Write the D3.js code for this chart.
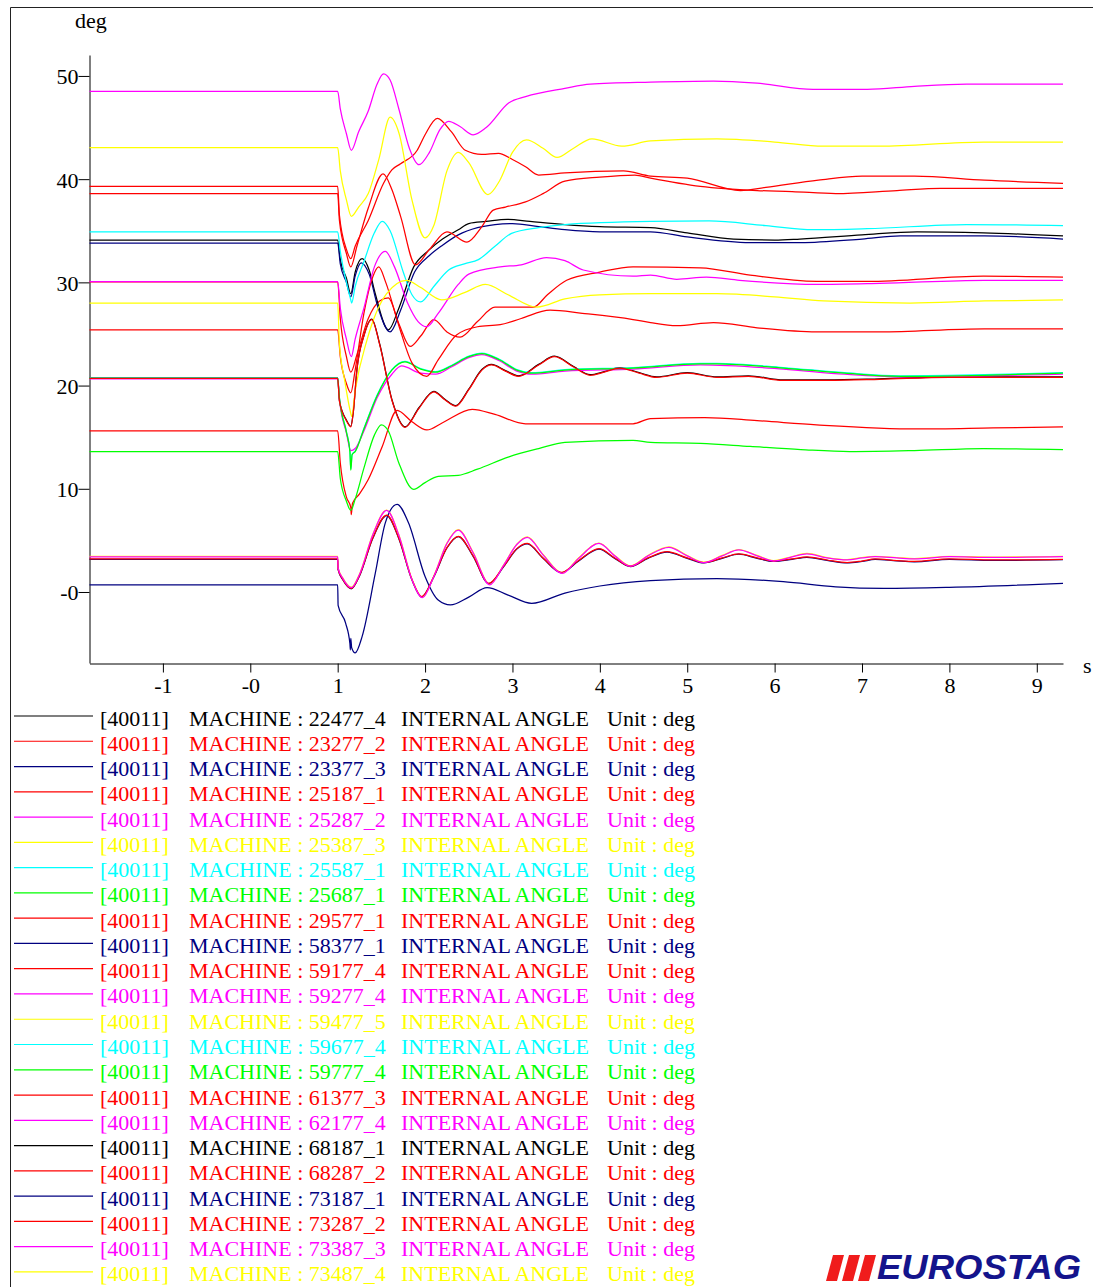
<!DOCTYPE html>
<html><head><meta charset="utf-8">
<script src="https://cdn.jsdelivr.net/npm/d3@7/dist/d3.min.js"></script>
<style>html,body{margin:0;padding:0;background:#fff;}svg{display:block}</style>
</head><body>
<script>
// ---------- DATA ----------
const machines = ["22477_4","23277_2","23377_3","25187_1","25287_2","25387_3","25587_1","25687_1","29577_1","58377_1","59177_4","59277_4","59477_5","59677_4","59777_4","61377_3","62177_4","68187_1","68287_2","73187_1","73287_2","73387_3","73487_4"];
const xTicks = [-1,0,1,2,3,4,5,6,7,8,9];
const xTickLabels = ["-1","-0","1","2","3","4","5","6","7","8","9"];
const yTicks = [0,10,20,30,40,50];
const yTickLabels = ["-0","10","20","30","40","50"];

const m22477_4 = [[-1.84,34.1],[1.0,34.1],[1.03,32.2],[1.1,30.4],[1.15,28.9],[1.2,31.0],[1.28,32.3],[1.36,31.2],[1.43,28.9],[1.58,25.4],[1.7,27.5],[1.87,31.5],[2.04,33.1],[2.2,34.2],[2.38,35.1],[2.5,35.7],[2.7,35.9],[2.94,36.1],[3.2,35.9],[3.6,35.6],[4.0,35.4],[4.58,35.3],[5.0,34.8],[5.53,34.2],[6.0,34.1],[6.29,34.2],[7.0,34.6],[7.63,34.9],[8.39,34.8],[9.3,34.5]];
const m23277_2 = [[-1.84,39.3],[1.0,39.3],[1.02,36.5],[1.1,33.2],[1.15,32.3],[1.2,33.5],[1.35,36.0],[1.525,39.6],[1.62,40.9],[1.72,41.5],[1.91,42.8],[2.0,44.3],[2.14,45.9],[2.3,44.6],[2.46,42.8],[2.65,42.4],[2.84,42.5],[3.0,41.9],[3.15,41.2],[3.3,40.4],[3.6,40.6],[4.27,40.8],[4.58,40.3],[5.0,40.1],[5.61,38.9],[5.9,39.2],[6.5,39.9],[7.0,40.3],[7.6,40.3],[8.4,39.9],[9.3,39.6]];
const m23377_3 = [[-1.84,33.8],[1.0,33.8],[1.03,31.8],[1.1,30.0],[1.15,28.6],[1.2,30.6],[1.27,31.9],[1.36,30.8],[1.46,27.6],[1.6,25.2],[1.72,27.3],[1.88,31.0],[2.05,32.6],[2.2,33.6],[2.38,34.6],[2.6,35.3],[2.8,35.6],[3.0,35.7],[3.3,35.4],[3.6,35.1],[4.0,34.9],[4.58,34.9],[5.0,34.4],[5.72,33.85],[6.3,33.85],[7.0,34.2],[7.44,34.5],[8.4,34.5],[9.3,34.2]];
const m25187_1 = [[-1.84,38.6],[1.0,38.6],[1.02,36.0],[1.1,32.8],[1.15,31.5],[1.22,33.5],[1.35,37.2],[1.52,40.5],[1.62,39.0],[1.72,36.4],[1.89,31.7],[2.05,33.2],[2.25,34.9],[2.48,33.9],[2.65,35.4],[2.78,37.0],[2.92,37.3],[3.15,37.8],[3.35,38.6],[3.6,39.8],[4.0,40.2],[4.4,40.4],[4.58,40.1],[5.15,39.3],[5.8,38.9],[6.2,38.8],[6.7,38.6],[7.4,38.9],[7.9,39.1],[9.3,39.1]];
const m25287_2 = [[-1.84,48.5],[1.0,48.5],[1.03,46.8],[1.1,44.4],[1.156,42.8],[1.24,44.6],[1.35,46.6],[1.45,49.2],[1.525,50.2],[1.6,49.6],[1.7,46.8],[1.82,43.0],[1.93,41.4],[2.05,42.6],[2.17,44.8],[2.27,45.6],[2.4,45.1],[2.55,44.3],[2.7,45.0],[2.96,47.4],[3.15,48.0],[3.6,48.8],[3.89,49.2],[4.58,49.4],[5.3,49.5],[5.8,49.3],[6.44,48.7],[7.06,48.7],[7.6,49.0],[8.2,49.2],[9.3,49.2]];
const m25387_3 = [[-1.84,43.05],[1.0,43.05],[1.03,40.8],[1.1,38.0],[1.156,36.4],[1.24,37.3],[1.35,38.6],[1.47,41.9],[1.6,46.0],[1.7,44.5],[1.85,38.0],[2.0,34.3],[2.1,35.5],[2.25,40.8],[2.38,42.6],[2.5,41.6],[2.72,38.5],[2.85,39.8],[3.0,42.6],[3.16,43.8],[3.35,43.0],[3.51,42.1],[3.7,43.0],[3.91,43.9],[4.25,43.2],[4.58,43.7],[5.34,43.9],[6.0,43.6],[6.56,43.2],[7.2,43.2],[8.39,43.6],[9.3,43.6]];
const m25587_1 = [[-1.84,34.9],[1.0,34.9],[1.03,33.0],[1.1,30.0],[1.15,28.3],[1.16,28.0],[1.2,29.6],[1.3,32.0],[1.42,34.8],[1.51,35.9],[1.6,35.0],[1.75,31.0],[1.85,28.8],[1.95,28.1],[2.1,29.6],[2.27,31.2],[2.45,31.8],[2.61,32.2],[2.8,33.5],[2.99,34.75],[3.3,35.3],[3.6,35.6],[4.58,35.9],[5.25,35.95],[5.9,35.5],[6.44,35.1],[7.06,35.2],[8.2,35.6],[9.3,35.5]];
const m25687_1 = [[-1.84,20.7],[1.0,20.7],[1.02,18.8],[1.1,15.5],[1.14,13.6],[1.15,11.8],[1.165,13.3],[1.2,13.6],[1.3,15.8],[1.45,19.0],[1.62,21.5],[1.77,22.3],[1.95,21.6],[2.12,21.3],[2.3,21.9],[2.5,22.8],[2.65,23.1],[2.85,22.5],[3.05,21.5],[3.22,21.2],[3.6,21.5],[4.38,21.7],[5.15,22.1],[5.34,22.1],[6.1,21.7],[6.8,21.2],[7.44,20.9],[8.4,21.0],[9.3,21.2]];
const m29577_1 = [[-1.84,25.4],[1.0,25.4],[1.03,22.8],[1.1,20.2],[1.15,19.3],[1.2,21.5],[1.3,27.0],[1.4,30.5],[1.47,31.5],[1.55,30.0],[1.7,25.8],[1.85,22.2],[2.02,20.9],[2.15,22.5],[2.36,24.9],[2.6,25.7],[2.86,25.9],[3.1,26.5],[3.43,27.3],[3.8,27.0],[4.38,26.4],[4.58,26.1],[4.88,25.8],[5.3,26.1],[5.8,25.6],[6.48,25.2],[7.2,25.2],[8.4,25.5],[9.3,25.5]];
const m58377_1 = [[-1.84,0.68],[1.0,0.68],[1.005,-1.3],[1.09,-3.0],[1.14,-5.0],[1.145,-5.6],[1.15,-4.5],[1.16,-5.4],[1.2,-5.9],[1.28,-4.3],[1.43,1.8],[1.545,6.7],[1.68,8.5],[1.81,6.7],[2.0,1.5],[2.15,-0.78],[2.29,-1.26],[2.5,-0.5],[2.71,0.42],[2.95,-0.3],[3.22,-1.1],[3.6,-0.1],[4.0,0.58],[4.58,1.1],[5.34,1.3],[6.1,1.0],[6.7,0.5],[7.25,0.35],[8.0,0.45],[9.3,0.84]];
const m59177_4 = [[-1.84,15.6],[1.0,15.6],[1.03,12.5],[1.1,9.2],[1.15,8.2],[1.155,7.5],[1.17,8.6],[1.25,9.5],[1.35,10.9],[1.51,14.1],[1.68,17.6],[1.85,16.5],[2.02,15.7],[2.2,16.4],[2.54,17.7],[2.8,17.2],[3.15,16.3],[3.6,16.3],[4.38,16.3],[4.58,16.8],[5.2,16.9],[5.8,16.6],[6.48,16.2],[7.63,15.8],[8.5,15.9],[9.3,16.0]];
const m59277_4 = [[-1.84,30.07],[1.0,30.07],[1.03,27.5],[1.1,24.5],[1.156,22.8],[1.2,24.5],[1.3,27.5],[1.42,31.5],[1.545,33.0],[1.65,31.5],[1.8,28.0],[1.92,26.2],[2.02,25.7],[2.15,27.0],[2.38,29.8],[2.5,30.8],[2.86,31.5],[3.1,31.7],[3.39,32.4],[3.6,32.1],[3.81,31.2],[4.38,30.6],[4.58,30.7],[4.88,30.3],[5.22,30.5],[5.6,30.2],[6.48,29.8],[7.2,29.9],[8.4,30.2],[9.3,30.2]];
const m59477_5 = [[-1.84,28.0],[1.0,28.0],[1.02,24.0],[1.08,20.5],[1.15,17.3],[1.16,17.0],[1.2,19.5],[1.335,24.4],[1.56,28.9],[1.79,30.2],[1.95,29.5],[2.19,28.3],[2.45,29.0],[2.69,29.8],[2.95,28.8],[3.28,27.6],[3.6,28.4],[4.0,28.8],[4.58,28.9],[5.34,28.9],[6.0,28.6],[6.56,28.2],[7.55,28.0],[8.4,28.2],[9.3,28.3]];
const m59677_4 = [[-1.84,20.75],[1.0,20.75],[1.02,18.85],[1.1,15.55],[1.14,13.65],[1.15,11.9],[1.165,13.35],[1.2,13.65],[1.3,15.85],[1.45,19.05],[1.62,21.55],[1.77,22.35],[1.95,21.65],[2.12,21.35],[2.3,21.95],[2.5,22.85],[2.65,23.15],[2.85,22.55],[3.05,21.55],[3.22,21.25],[3.6,21.55],[4.38,21.75],[5.15,22.15],[5.34,22.15],[6.1,21.75],[6.8,21.25],[7.44,20.95],[8.4,21.05],[9.3,21.25]];
const m59777_4 = [[-1.84,13.6],[1.0,13.6],[1.03,11.0],[1.1,8.8],[1.15,7.9],[1.2,9.0],[1.3,12.0],[1.42,15.2],[1.5,16.2],[1.58,15.6],[1.7,12.5],[1.87,9.95],[2.0,10.6],[2.15,11.2],[2.38,11.3],[2.6,11.9],[2.96,13.1],[3.3,13.9],[3.6,14.5],[4.38,14.7],[4.58,14.5],[5.15,14.4],[5.72,14.1],[6.3,13.8],[6.86,13.6],[7.6,13.7],[8.39,13.9],[9.3,13.8]];
const m61377_3 = [[-1.84,3.2],[1.0,3.2],[1.005,2.2],[1.06,1.2],[1.156,0.35],[1.25,1.6],[1.4,5.2],[1.56,7.45],[1.7,5.2],[1.85,1.2],[1.96,-0.45],[2.1,1.5],[2.25,4.3],[2.38,5.4],[2.55,3.5],[2.73,0.84],[2.9,2.5],[3.05,4.2],[3.17,4.7],[3.35,3.3],[3.56,1.9],[3.75,3.0],[3.99,4.2],[4.17,3.3],[4.35,2.5],[4.55,3.3],[4.77,3.9],[5.0,3.3],[5.19,2.85],[5.4,3.3],[5.59,3.7],[5.8,3.3],[5.99,3.0],[6.2,3.2],[6.37,3.4],[6.6,3.1],[6.83,2.85],[7.0,3.0],[7.15,3.2],[7.4,3.05],[7.6,2.97],[8.0,3.2],[8.5,3.1],[9.3,3.17]];
const m62177_4 = [[-1.84,3.4],[1.0,3.4],[1.005,2.3],[1.06,1.3],[1.156,0.42],[1.25,1.7],[1.4,5.5],[1.56,7.9],[1.7,5.5],[1.85,1.2],[1.97,-0.55],[2.1,1.5],[2.25,4.7],[2.38,6.0],[2.55,3.8],[2.74,0.7],[2.9,2.6],[3.05,4.6],[3.17,5.3],[3.35,3.6],[3.57,1.8],[3.75,3.2],[3.99,4.7],[4.17,3.5],[4.35,2.5],[4.55,3.5],[4.79,4.33],[5.0,3.5],[5.19,2.85],[5.4,3.5],[5.59,4.07],[5.8,3.5],[5.99,3.0],[6.2,3.4],[6.37,3.7],[6.6,3.3],[6.83,3.1],[7.0,3.3],[7.15,3.42],[7.4,3.3],[7.6,3.2],[8.0,3.42],[8.5,3.35],[9.3,3.42]];
const m68187_1 = [[-1.84,20.74],[1.0,20.74],[1.02,18.55],[1.1,16.65],[1.15,16.05],[1.18,17.55],[1.22,21.55],[1.3,24.85],[1.39,26.45],[1.48,24.05],[1.62,18.65],[1.77,16.0],[1.93,17.85],[2.1,19.45],[2.23,18.65],[2.35,18.05],[2.5,19.65],[2.65,21.55],[2.76,22.05],[2.92,21.45],[3.07,20.95],[3.3,22.05],[3.48,22.85],[3.7,21.85],[3.89,21.05],[4.05,21.35],[4.23,21.75],[4.45,21.25],[4.65,20.85],[5.0,21.25],[5.34,20.85],[5.7,20.95],[6.1,20.55],[6.6,20.55],[7.2,20.65],[8.0,20.85],[9.3,20.85]];
const m68287_2 = [[-1.84,20.7],[1.0,20.7],[1.02,18.5],[1.1,16.6],[1.15,16.0],[1.18,17.5],[1.22,21.5],[1.3,24.8],[1.39,26.4],[1.48,24.0],[1.62,18.6],[1.77,15.95],[1.93,17.8],[2.1,19.4],[2.23,18.6],[2.35,18.0],[2.5,19.6],[2.65,21.5],[2.76,22.0],[2.92,21.4],[3.07,20.9],[3.3,22.0],[3.48,22.8],[3.7,21.8],[3.89,21.0],[4.05,21.3],[4.23,21.7],[4.45,21.2],[4.65,20.8],[5.0,21.2],[5.34,20.8],[5.7,20.9],[6.1,20.5],[6.6,20.5],[7.2,20.6],[8.0,20.8],[9.3,20.8]];
const m73187_1 = [[-1.84,3.16],[1.0,3.16],[1.005,2.16],[1.06,1.16],[1.156,0.31],[1.25,1.56],[1.4,5.16],[1.56,7.41],[1.7,5.16],[1.85,1.16],[1.96,-0.49],[2.1,1.46],[2.25,4.26],[2.38,5.36],[2.55,3.46],[2.73,0.8],[2.9,2.46],[3.05,4.16],[3.17,4.66],[3.35,3.26],[3.56,1.86],[3.75,2.96],[3.99,4.16],[4.17,3.26],[4.35,2.46],[4.55,3.26],[4.77,3.86],[5.0,3.26],[5.19,2.81],[5.4,3.26],[5.59,3.66],[5.8,3.26],[5.99,2.96],[6.2,3.16],[6.37,3.36],[6.6,3.06],[6.83,2.81],[7.0,2.96],[7.15,3.16],[7.4,3.01],[7.6,2.93],[8.0,3.16],[8.5,3.06],[9.3,3.13]];
const m73287_2 = [[-1.84,30.05],[1.0,30.05],[1.03,26.5],[1.1,22.8],[1.15,21.3],[1.22,23.0],[1.35,26.5],[1.48,28.2],[1.58,28.5],[1.7,26.0],[1.83,23.8],[1.95,24.8],[2.1,26.4],[2.25,25.2],[2.4,24.7],[2.6,26.2],[2.8,27.6],[3.0,27.6],[3.24,27.6],[3.4,28.8],[3.62,30.2],[4.0,31.0],[4.38,31.5],[5.15,31.4],[5.72,30.7],[6.48,30.1],[7.06,30.1],[8.39,30.6],[9.3,30.5]];
const m73387_3 = [[-1.84,20.65],[1.0,20.65],[1.02,18.7],[1.1,15.4],[1.15,13.7],[1.2,13.9],[1.3,15.6],[1.45,18.8],[1.62,21.1],[1.73,21.9],[1.95,21.2],[2.12,21.1],[2.3,21.8],[2.5,22.7],[2.65,23.0],[2.85,22.4],[3.05,21.4],[3.22,21.1],[3.6,21.4],[4.38,21.6],[5.15,22.0],[6.1,21.6],[6.8,21.1],[7.44,20.85],[8.4,20.95],[9.3,21.1]];
const m73487_4 = [[-1.84,3.44],[1.0,3.44],[1.005,2.34],[1.06,1.34],[1.156,0.46],[1.25,1.74],[1.4,5.54],[1.56,7.94],[1.7,5.54],[1.85,1.24],[1.97,-0.51],[2.1,1.54],[2.25,4.74],[2.38,6.04],[2.55,3.84],[2.74,0.74],[2.9,2.64],[3.05,4.64],[3.17,5.34],[3.35,3.64],[3.57,1.84],[3.75,3.24],[3.99,4.74],[4.17,3.54],[4.35,2.54],[4.55,3.54],[4.79,4.37],[5.0,3.54],[5.19,2.89],[5.4,3.54],[5.59,4.11],[5.8,3.54],[5.99,3.04],[6.2,3.44],[6.37,3.74],[6.6,3.34],[6.83,3.14],[7.0,3.34],[7.15,3.46],[7.4,3.34],[7.6,3.24],[8.0,3.46],[8.5,3.39],[9.3,3.46]];

const seriesValues = [m22477_4,m23277_2,m23377_3,m25187_1,m25287_2,m25387_3,m25587_1,m25687_1,m29577_1,m58377_1,m59177_4,m59277_4,m59477_5,m59677_4,m59777_4,m61377_3,m62177_4,m68187_1,m68287_2,m73187_1,m73287_2,m73387_3,m73487_4];

// ---------- STYLE ----------
const colors = ["#000000","#ff0000","#000080","#ff0000","#ff00ff","#ffff00","#00ffff","#00ff00","#ff0000","#000080","#ff0000","#ff00ff","#ffff00","#00ffff","#00ff00","#ff0000","#ff00ff","#000000","#ff0000","#000080","#ff0000","#ff00ff","#ffff00"];
const drawOrder = [17,19,22,13,21,20,0,1,2,3,4,5,6,7,8,9,10,11,12,14,15,16,18];
const W = 1093, H = 1287;
const serif = "'Liberation Serif','Times New Roman',serif";

const svg = d3.select("body").append("svg").attr("width", W).attr("height", H);

// frame
svg.append("path").attr("d", `M10.5,${H} L10.5,7.5 L${W},7.5`).attr("fill","none").attr("stroke","#222").attr("stroke-width",1);

const x = d3.scaleLinear().domain([-1.84, 9.3]).range([89.5, 1063]);
const y = d3.scaleLinear().domain([-6.88, 52.03]).range([663, 55]);

// axes
const gy = svg.append("g").attr("transform","translate(89.5,0)")
  .call(d3.axisLeft(y).tickValues(yTicks).tickFormat((d,i)=>yTickLabels[i]).tickSize(11).tickSizeOuter(0).tickPadding(0));
gy.selectAll("text").attr("font-family", serif).attr("font-size", 22).attr("fill","#000").attr("dy","0.36em");
gy.selectAll("line,path").attr("stroke","#000");

const gx = svg.append("g").attr("transform","translate(0,663.5)")
  .call(d3.axisBottom(x).tickValues(xTicks).tickFormat((d,i)=>xTickLabels[i]).tickSize(9).tickSizeOuter(0).tickPadding(5));
gx.selectAll("text").attr("font-family", serif).attr("font-size", 22).attr("fill","#000");
gx.selectAll("line,path").attr("stroke","#000");

svg.append("text").attr("x",75).attr("y",28).attr("font-family",serif).attr("font-size",22).text("deg");
svg.append("text").attr("x",1083).attr("y",673).attr("font-family",serif).attr("font-size",22).text("s");

// lines
const line = d3.line().x(d=>x(d[0])).y(d=>y(d[1])).curve(d3.curveMonotoneX);
const gl = svg.append("g");
drawOrder.forEach(i => {
  gl.append("path").attr("d", line(seriesValues[i])).attr("fill","none")
    .attr("stroke", colors[i]).attr("stroke-width", 1.25).attr("stroke-linejoin","round");
});

// legend
const leg = svg.append("g");
machines.forEach((m,i) => {
  const ly = 716 + i*25.27;
  leg.append("line").attr("x1",14).attr("x2",93).attr("y1",ly).attr("y2",ly).attr("stroke",colors[i]).attr("stroke-width",1.2);
  const t = (xx, s) => leg.append("text").attr("x",xx).attr("y",ly+9.5).attr("font-family",serif).attr("font-size",22).attr("fill",colors[i]).text(s);
  t(100, "[40011]");
  t(189, "MACHINE : " + m);
  t(401, "INTERNAL ANGLE");
  t(607, "Unit : deg");
});

// logo
const logo = svg.append("g");
[0,1,2].forEach(k => {
  const bx = 826 + k*16;
  logo.append("polygon").attr("points", `${bx},1281 ${bx+11},1281 ${bx+18},1255 ${bx+7},1255`).attr("fill","#f01c1c");
});
logo.append("text").attr("x",877).attr("y",1279).attr("font-family","'Liberation Sans',Arial,sans-serif")
  .attr("font-weight","bold").attr("font-style","italic").attr("font-size",35)
  .attr("textLength",204).attr("lengthAdjust","spacingAndGlyphs").attr("fill","#14148c").text("EUROSTAG");
</script>
</body></html>
